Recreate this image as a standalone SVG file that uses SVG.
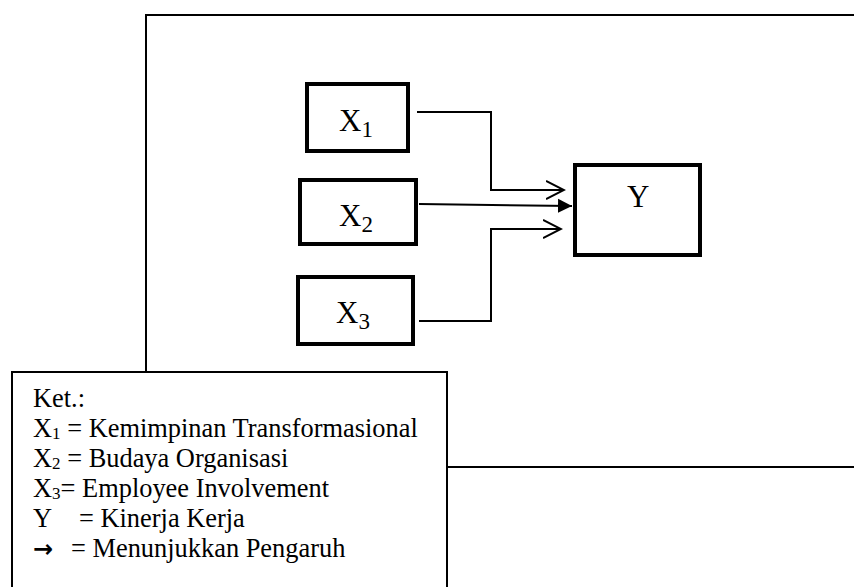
<svg xmlns="http://www.w3.org/2000/svg" width="854" height="587" viewBox="0 0 854 587">
<style>
.frame{fill:none;stroke:#000;stroke-width:2}
.box{fill:#fff;stroke:#000;stroke-width:4}
.lbl{font-family:"Liberation Serif","Times New Roman",serif;font-size:31px;fill:#000}
.sub{font-size:23px}
.leg{font-family:"Liberation Serif","Times New Roman",serif;font-size:26.4px;fill:#000}
.lsub{font-size:17px}
.conn{fill:none;stroke:#000;stroke-width:2}
</style>
<defs>
<marker id="open" markerWidth="20" markerHeight="20" refX="18" refY="10" orient="auto" markerUnits="userSpaceOnUse">
<path d="M0,1 L18,10 L0,19" fill="none" stroke="#000" stroke-width="2"/>
</marker>
<marker id="filled" markerWidth="16" markerHeight="16" refX="14" refY="8" orient="auto" markerUnits="userSpaceOnUse">
<path d="M0,1 L14,8 L0,15 Z" fill="#000"/>
</marker>
</defs>
<rect width="854" height="587" fill="#fff"/>
<g id="frame">
<path class="frame" d="M146,372 V15 H854"/>
<path class="frame" d="M448,467 H854"/>
</g>
<g id="connectors">
<path class="conn" d="M417,112 H491 V190 H564" marker-end="url(#open)"/>
<path class="conn" d="M419,204 L572,206" marker-end="url(#filled)"/>
<path class="conn" d="M419,321 H491 V229 H561" marker-end="url(#open)"/>
</g>
<g id="X1">
<rect class="box" x="307" y="84" width="101" height="67"/>
<text class="lbl" x="339" y="131">X<tspan class="sub" dy="6">1</tspan></text>
</g>
<g id="X2">
<rect class="box" x="300" y="180" width="116" height="64"/>
<text class="lbl" x="339" y="226">X<tspan class="sub" dy="6">2</tspan></text>
</g>
<g id="X3">
<rect class="box" x="298" y="277" width="115" height="67"/>
<text class="lbl" x="336" y="323">X<tspan class="sub" dy="6">3</tspan></text>
</g>
<g id="Y">
<rect class="box" x="575" y="165" width="125" height="90"/>
<text class="lbl" x="627" y="207">Y</text>
</g>
<g id="legend">
<rect class="frame" x="12" y="372" width="435" height="230" fill="#fff"/>
<text class="leg" x="33" y="407">Ket.:</text>
<text class="leg" x="33" y="437">X<tspan class="lsub" dy="2">1</tspan><tspan dy="-2"> = Kemimpinan Transformasional</tspan></text>
<text class="leg" x="33" y="467">X<tspan class="lsub" dy="2">2</tspan><tspan dy="-2"> = Budaya Organisasi</tspan></text>
<text class="leg" x="33" y="497">X<tspan class="lsub" dy="2">3</tspan><tspan dy="-2">= Employee Involvement</tspan></text>
<text class="leg" x="33" y="527">Y<tspan x="79">= Kinerja Kerja</tspan></text>
<text class="leg" x="33" y="557"><tspan font-family="DejaVu Sans" font-weight="bold" font-size="24">→</tspan><tspan x="71">= Menunjukkan Pengaruh</tspan></text>
</g>
</svg>
